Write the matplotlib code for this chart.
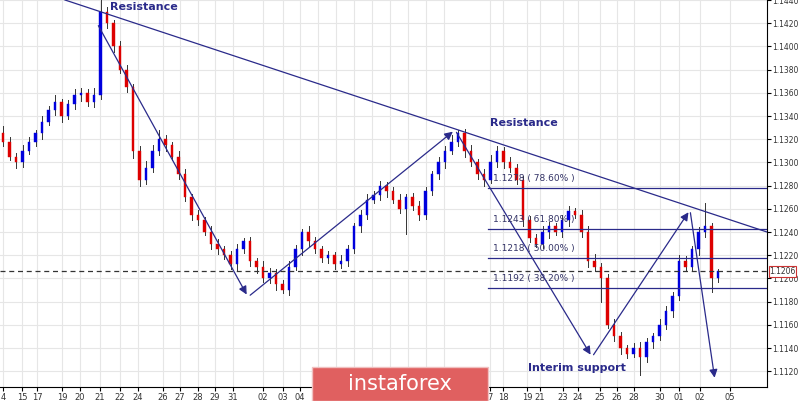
import matplotlib
matplotlib.use("Agg")
import matplotlib.pyplot as plt
from matplotlib.patches import Rectangle

closes = [1.1318,1.1305,1.1300,1.1310,1.1318,1.1325,1.1335,1.1345,1.1352,1.1340,
          1.1350,1.1358,1.1360,1.1352,1.1358,1.1430,1.1420,1.1400,1.1380,1.1365,
          1.1310,1.1285,1.1295,1.1310,1.1320,1.1315,1.1305,1.1290,1.1270,1.1255,
          1.1250,1.1240,1.1230,1.1225,1.1220,1.1212,1.1225,1.1232,1.1215,1.1210,
          1.1200,1.1205,1.1195,1.1190,1.1210,1.1225,1.1240,1.1232,1.1225,1.1218,
          1.1220,1.1212,1.1215,1.1225,1.1245,1.1255,1.1268,1.1272,1.1280,1.1275,
          1.1268,1.1260,1.1270,1.1262,1.1255,1.1275,1.1290,1.1300,1.1310,1.1318,
          1.1325,1.1310,1.1300,1.1290,1.1285,1.1300,1.1310,1.1300,1.1295,1.1285,
          1.1250,1.1235,1.1230,1.1240,1.1245,1.1240,1.1250,1.1258,1.1255,1.1240,
          1.1215,1.1210,1.1200,1.1160,1.1150,1.1140,1.1135,1.1140,1.1132,1.1145,
          1.1150,1.1160,1.1172,1.1185,1.1215,1.1210,1.1225,1.1240,1.1245,1.1200,1.1206]
first_open = 1.1325
wick_up = [6,4,3,5,4,3,5,4,6,3,4,5,4,3,6,10,4,3,5,4,3,4,6,5,8,4,3,5,4,3,
           4,3,5,4,3,4,5,3,4,3,5,4,3,4,5,4,3,5,4,3,4,3,5,4,3,4,5,3,4,3,
           4,5,3,4,5,4,3,5,4,6,3,4,5,3,4,6,4,3,5,4,3,4,3,5,4,3,5,4,3,4,
           5,6,3,4,5,4,3,4,5,4,3,5,4,3,5,4,3,4,20,3,2]
wick_dn = [4,3,5,4,3,4,5,3,4,5,3,4,5,3,4,3,4,5,3,4,6,5,4,3,4,5,3,4,3,5,
           4,3,5,4,3,4,5,3,4,5,3,4,5,3,4,3,5,4,3,4,5,4,3,4,3,5,4,3,4,5,
           3,4,22,3,5,4,3,4,5,3,4,5,3,4,5,3,4,5,3,4,5,4,3,4,5,3,4,5,3,4,
           5,4,20,3,4,5,4,3,15,4,5,3,4,5,4,3,4,5,4,12,3]

date_labels = ["4","15","17","19","20","21","22","24","26","27","28","29","31","02","03","04",
               "05","06","07","08","09","10","11","14","7","18","19","21","23","24","25","26",
               "28","30","01","02","05"]
date_px = [3,22,37,62,80,100,120,138,163,180,198,215,233,263,283,300,
           318,336,354,372,390,408,426,444,490,503,527,540,563,578,600,617,634,660,679,700,730]

fib_levels = [1.1278,1.1243,1.1218,1.1192]
fib_labels = ["1.1278 ( 78.60% )","1.1243 ( 61.80% )","1.1218 ( 50.00% )","1.1192 ( 38.20% )"]
current = 1.1206

def px(p):
    return (p-3)/6.5

W, H = 800, 401
fig = plt.figure(figsize=(W/100, H/100), dpi=100)
fig.patch.set_facecolor("white")
ax = fig.add_axes([0, 14/401, 767/800, 387/401])
ylo, yhi = 1.1440-387/11600, 1.1440
ax.set_ylim(ylo, yhi)
ax.set_xlim(px(0), px(767))

for p in date_px:
    ax.axvline(px(p), color="#e6e6e6", lw=0.8, zorder=0)
yt = [1.1120+0.002*k for k in range(17)]
for y in yt:
    ax.axhline(y, color="#e6e6e6", lw=0.8, zorder=0)

opens = [first_open] + closes[:-1]
for i, (o, c) in enumerate(zip(opens, closes)):
    hi = max(o, c) + wick_up[i]*1e-4
    lo = min(o, c) - wick_dn[i]*1e-4
    col = "#0000dd" if c >= o else "#dd0000"
    ax.plot([i, i], [lo, hi], color="#333333", lw=0.7, zorder=2)
    ax.add_patch(Rectangle((i-0.22, min(o, c)), 0.44, max(abs(c-o), 0.00005),
                           facecolor=col, edgecolor=col, lw=0.3, zorder=3))

navy = "#2a2a8a"
ax.plot([px(65), px(767)], [1.1440, 1.1240], color=navy, lw=0.9, zorder=4)
zz = [(97,1.1420),(248,1.1184),(455,1.1328),(592,1.11322),(690,1.1259),(715,1.1112)]
for (x0,y0),(x1,y1) in zip(zz[:-1], zz[1:]):
    ax.annotate("", xy=(px(x1), y1), xytext=(px(x0), y0),
                arrowprops=dict(arrowstyle="-|>", color=navy, lw=0.9, mutation_scale=12), zorder=4)
for lv, lb in zip(fib_levels, fib_labels):
    ax.plot([px(488), px(767)], [lv, lv], color=navy, lw=0.9, zorder=4)
    ax.text(px(493), lv+0.0004, lb, fontsize=6.5, color="#333366", va="bottom", zorder=5)
ax.axhline(current, color="#333333", lw=0.9, ls=(0,(4,3)), zorder=4)

ax.text(px(110), 1.1440-7/11600, "Resistance", fontsize=8, fontweight="bold", color=navy, va="center", zorder=5)
ax.text(px(490), 1.1440-123/11600, "Resistance", fontsize=8, fontweight="bold", color=navy, va="center", zorder=5)
ax.text(px(528), 1.1440-368/11600, "Interim support", fontsize=8, fontweight="bold", color=navy, va="center", zorder=5)

ax.yaxis.tick_right()
ax.set_yticks(yt)
ax.set_yticklabels([f"{v:.4f}" for v in yt], fontsize=5.5, color="#333333")
ax.tick_params(axis="y", length=3, pad=0.5)
ax.set_xticks([px(p) for p in date_px])
ax.set_xticklabels(date_labels, fontsize=6, color="#333333")
ax.tick_params(axis="x", length=3, pad=1)
for s in ["top", "left"]:
    ax.spines[s].set_visible(False)
ax.text(1.003, current, f"{current:.4f}", transform=ax.get_yaxis_transform(), fontsize=5.5,
        va="center", ha="left", color="#333333",
        bbox=dict(boxstyle="square,pad=0.1", fc="white", ec="#cc3333", lw=0.8), zorder=6, clip_on=False)

fig.patches.append(Rectangle((312/W, 0), 176/W, 34/H, transform=fig.transFigure,
                             facecolor="#e06060", edgecolor="#f0c0c0", lw=1, zorder=10))
fig.text(400/W, 17/H, "instaforex", fontsize=15, color="white", ha="center", va="center", zorder=11)

fig.savefig("out.png", dpi=100, facecolor="white")
